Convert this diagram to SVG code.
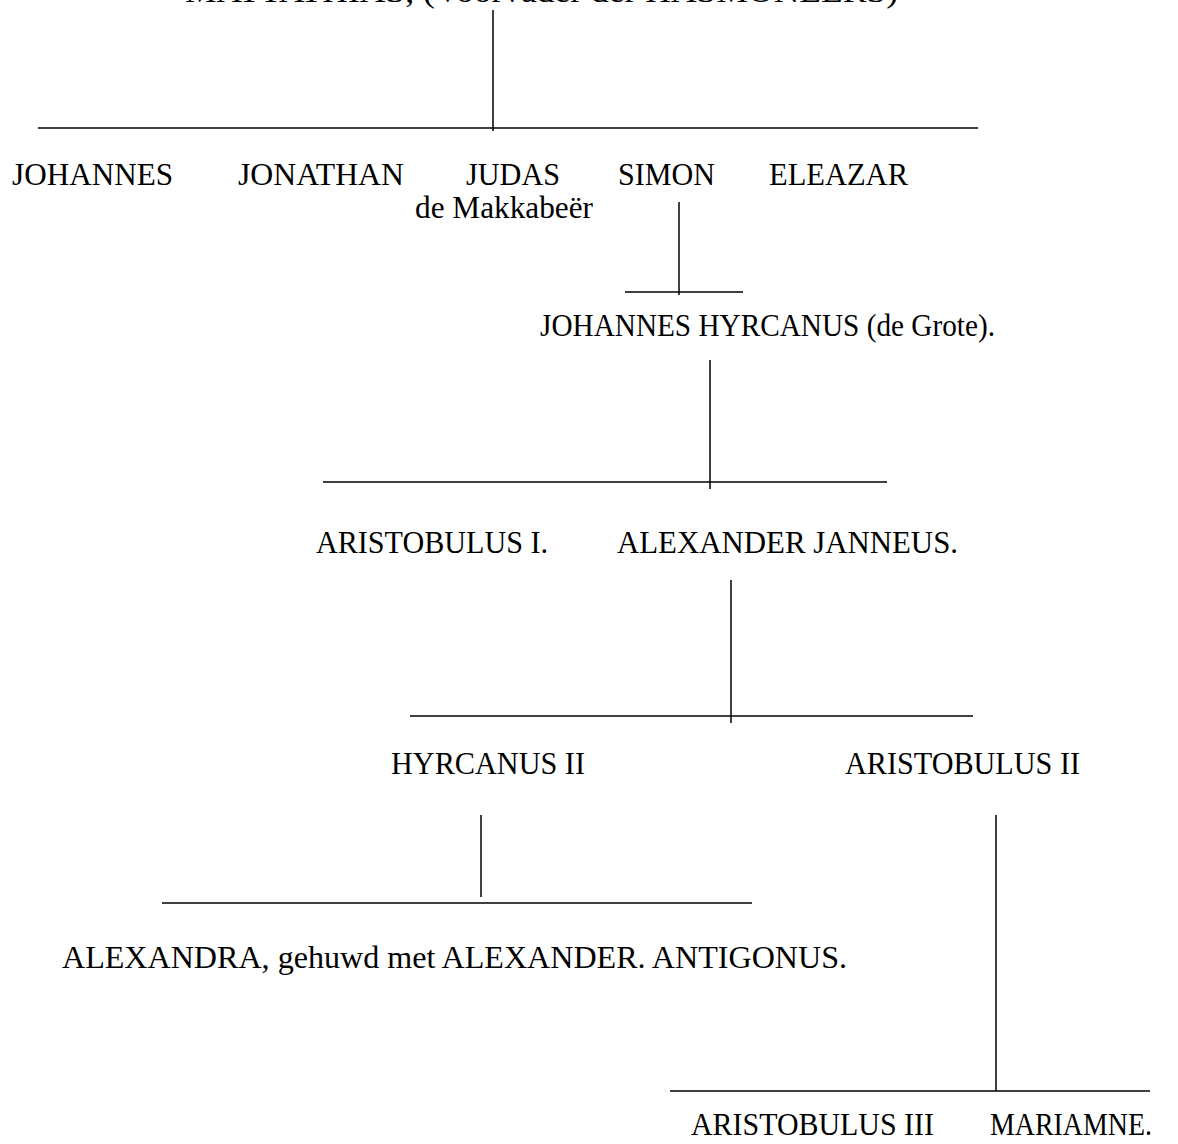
<svg xmlns="http://www.w3.org/2000/svg" width="1178" height="1144" viewBox="0 0 1178 1144">
<style>
text{font-family:"Liberation Serif","Times New Roman",serif;font-size:32px;fill:#000}
line{stroke:#000;stroke-width:1.5}
</style>
<rect width="1178" height="1144" fill="#fff"/>
<g id="connectors">
<line x1="493" y1="10" x2="493" y2="131"/>
<line x1="38" y1="128" x2="978" y2="128"/>
<line x1="679" y1="202" x2="679" y2="295"/>
<line x1="625" y1="292" x2="743" y2="292"/>
<line x1="710" y1="360" x2="710" y2="489"/>
<line x1="323" y1="482" x2="887" y2="482"/>
<line x1="731" y1="580" x2="731" y2="723"/>
<line x1="410" y1="716" x2="973" y2="716"/>
<line x1="481" y1="815" x2="481" y2="897"/>
<line x1="162" y1="903" x2="752" y2="903"/>
<line x1="996" y1="815" x2="996" y2="1091"/>
<line x1="670" y1="1091" x2="1150" y2="1091"/>
</g>
<g id="n-top"><text x="185" y="2" textLength="713" lengthAdjust="spacingAndGlyphs">MATTATHIAS, (Voorvader der HASMONEËRS)</text></g>
<g id="n-johannes"><text x="12" y="185" textLength="161" lengthAdjust="spacingAndGlyphs">JOHANNES</text></g>
<g id="n-jonathan"><text x="238" y="185" textLength="166" lengthAdjust="spacingAndGlyphs">JONATHAN</text></g>
<g id="n-judas"><text x="466" y="185" textLength="94" lengthAdjust="spacingAndGlyphs">JUDAS</text><text x="415" y="218" textLength="178" lengthAdjust="spacingAndGlyphs">de Makkabeër</text></g>
<g id="n-simon"><text x="618" y="185" textLength="97" lengthAdjust="spacingAndGlyphs">SIMON</text></g>
<g id="n-eleazar"><text x="769" y="185" textLength="139" lengthAdjust="spacingAndGlyphs">ELEAZAR</text></g>
<g id="n-hyrcanus1"><text x="540" y="336" textLength="455" lengthAdjust="spacingAndGlyphs">JOHANNES HYRCANUS (de Grote).</text></g>
<g id="n-aristobulus1"><text x="316" y="553" textLength="232" lengthAdjust="spacingAndGlyphs">ARISTOBULUS I.</text></g>
<g id="n-janneus"><text x="617" y="553" textLength="341" lengthAdjust="spacingAndGlyphs">ALEXANDER JANNEUS.</text></g>
<g id="n-hyrcanus2"><text x="391" y="774" textLength="194" lengthAdjust="spacingAndGlyphs">HYRCANUS II</text></g>
<g id="n-aristobulus2"><text x="845" y="774" textLength="235" lengthAdjust="spacingAndGlyphs">ARISTOBULUS II</text></g>
<g id="n-alexandra"><text x="62" y="968" textLength="785" lengthAdjust="spacingAndGlyphs">ALEXANDRA, gehuwd met ALEXANDER. ANTIGONUS.</text></g>
<g id="n-aristobulus3"><text x="691" y="1135" textLength="243" lengthAdjust="spacingAndGlyphs">ARISTOBULUS III</text></g>
<g id="n-mariamne"><text x="990" y="1135" textLength="162" lengthAdjust="spacingAndGlyphs">MARIAMNE.</text></g>
</svg>
